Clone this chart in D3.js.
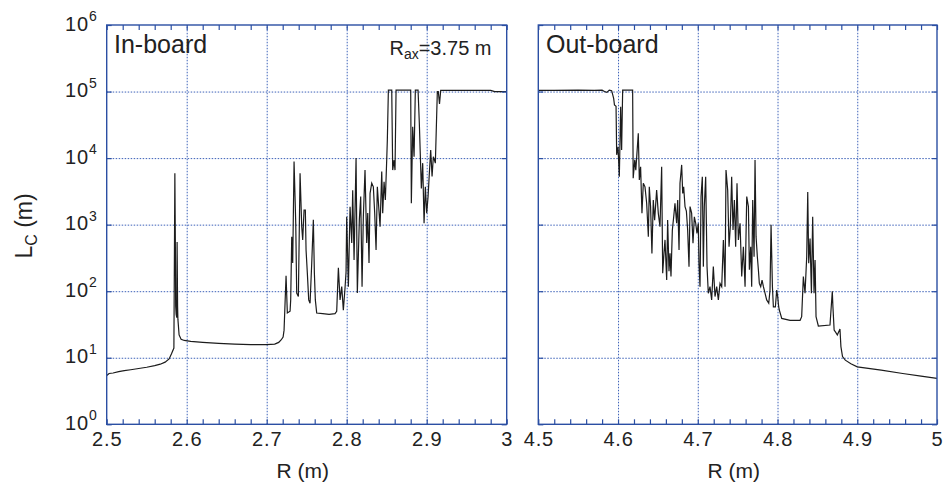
<!DOCTYPE html>
<html>
<head>
<meta charset="utf-8">
<script src="https://cdn.jsdelivr.net/npm/d3@7"></script>
<style>
  html, body { margin: 0; padding: 0; background: #fff; }
  svg { display: block; font-family: "Liberation Sans", Arial, Helvetica, sans-serif; }
</style>
</head>
<body>
<svg id="chart" width="944" height="486"></svg>
<script>
// Connection length L_C versus major radius R, in-board and out-board sides
const inR = [2.500,2.503,2.508,2.515,2.522,2.530,2.540,2.550,2.560,2.567,2.573,2.578,2.581,2.584,
  2.5852,2.5858,2.5862,2.5868,2.5876,2.5880,2.5886,2.5890,2.5905,2.593,2.597,2.605,2.620,2.640,2.660,2.680,2.700,
  2.710,2.715,2.718,2.7205,2.7217,2.7242,2.7258,2.7292,2.7300,2.7313,2.7325,2.7342,2.7354,2.7363,2.7375,2.7396,
  2.7417,2.7438,2.7450,2.7467,2.7483,2.7492,2.7508,2.7525,2.7542,2.7563,2.7583,2.7596,2.7608,2.7625,2.770,2.778,
  2.7854,2.7875,2.7896,2.7917,2.7938,2.7958,2.7979,2.7992,2.8000,2.8021,2.8042,2.8063,2.8075,2.8092,2.8117,2.8133,
  2.8158,2.8175,2.8192,2.8208,2.8229,2.8250,2.8263,2.8279,2.8292,2.8313,2.8333,2.8350,2.8367,2.8383,2.8400,2.8417,
  2.8438,2.8450,2.8467,2.8483,2.8500,2.8508,2.8521,2.8563,2.8575,2.8592,2.8604,2.8617,2.8800,2.8808,2.8825,2.8842,
  2.8858,2.8892,2.8908,2.8933,2.8950,2.8967,2.8983,2.9000,2.9017,2.9033,2.9050,2.9067,2.9083,2.9108,2.9133,2.9145,
  2.9160,2.9175,2.950,2.980,2.985,3.000];
const inL = [5.4,5.8,5.9,6.2,6.4,6.6,6.9,7.2,7.6,8.0,8.6,9.6,11.5,14,
  5900,600,60,45,40,550,60,38,22,19,18.2,17.6,17.0,16.4,16.0,15.8,15.7,
  16.0,17.0,18.5,20.5,26,170,47,50,74,660,265,8900,2640,1050,94,83,
  5900,930,590,1660,1660,415,187,74,66,265,1180,187,74,47,46,45,
  46,50,224,74,117,52,112,196,1310,117,1860,530,3300,295,10000,94,
  1180,2640,117,1310,6600,530,1490,265,2960,4200,3700,1490,415,3700,1860,930,
  6300,1490,4400,2350,9300,18700,105000,105000,6600,9300,6600,105000,105000,2100,29500,10500,
  105000,105000,33000,3500,8400,1050,3700,1490,2640,5900,13200,5300,10500,8400,100000,100000,
  65000,104000,104000,104000,100000,100000];

const outR = [4.500,4.520,4.550,4.570,4.580,4.583,4.586,4.589,4.592,4.5945,4.5955,4.5975,4.5983,4.6000,4.6016,
  4.6033,4.6045,4.6058,4.6183,4.6190,4.6210,4.6223,4.6254,4.6267,4.6283,4.6300,4.6317,4.6338,4.6359,4.6380,4.6392,
  4.6408,4.6425,4.6442,4.6459,4.6484,4.6505,4.6526,4.6547,4.6560,4.6576,4.6589,4.6610,4.6622,4.6639,4.6652,4.6664,
  4.6681,4.6698,4.6714,4.6735,4.6748,4.6765,4.6777,4.6798,4.6811,4.6823,4.6840,4.6857,4.6873,4.6890,4.6903,4.6923,
  4.6940,4.6957,4.6974,4.6990,4.7007,4.7015,4.7028,4.7041,4.7057,4.7070,4.7082,4.7099,4.7116,4.7132,4.7153,4.7174,
  4.7195,4.7216,4.7237,4.7258,4.7279,4.7300,4.7321,4.7342,4.7354,4.7375,4.7392,4.7408,4.7425,4.7442,4.7459,4.7475,
  4.7492,4.7509,4.7530,4.7551,4.7572,4.7593,4.7614,4.7635,4.7647,4.7664,4.7676,4.7689,4.7706,4.7718,4.7731,4.7747,
  4.7760,4.7772,4.7789,4.7806,4.7823,4.7844,4.7864,4.7890,4.7906,4.7919,4.7936,4.7948,4.7973,4.7990,4.8002,4.8015,
  4.8023,4.8053,4.8157,4.8283,4.8303,4.8324,4.8345,4.8366,4.8379,4.8391,4.8408,4.8425,4.8441,4.8458,4.8471,4.8483,
  4.8512,4.8658,4.8687,4.8695,4.8710,4.8730,4.8750,4.8783,4.8795,4.8815,4.8850,4.8920,4.9000,4.9300,4.9570,4.9800,5.0000];
const outL = [104000,104000,105000,104000,105000,100000,97000,105000,103000,79000,63000,60000,11200,14800,5250,
  59000,13200,105000,105000,5000,9400,6600,23600,4700,7400,1480,4200,3700,2100,660,3700,
  1870,370,2350,1170,3300,1480,930,7400,186,370,590,147,1170,200,370,166,
  830,1310,2100,1050,2350,415,4200,7900,2950,3700,1870,1600,830,234,1870,1490,
  525,1310,1050,740,1050,263,117,2640,5250,234,1870,5250,234,93,117,74,
  234,83,117,74,131,117,590,117,6600,3300,465,930,5250,830,2350,465,
  4200,590,1050,166,465,117,2640,1870,210,465,117,2350,330,9400,660,330,
  210,131,117,147,117,93,74,66,104,1000,117,58,58,104,83,58,
  52,39,36.5,36.5,41.5,166,93,330,3100,263,620,93,1310,93,295,41.5,
  30,31,100,58,26,24,22,27,14.7,10.4,9.2,8.1,7.3,6.5,5.8,5.3,4.9];

const inTicks = [2.5, 2.6, 2.7, 2.8, 2.9, 3.0];
const inTickLabels = ["2.5", "2.6", "2.7", "2.8", "2.9", "3"];
const outTicks = [4.5, 4.6, 4.7, 4.8, 4.9, 5.0];
const outTickLabels = ["4.5", "4.6", "4.7", "4.8", "4.9", "5"];
const yTicks = [1, 10, 100, 1000, 10000, 100000, 1000000];
const yExponents = ["0", "1", "2", "3", "4", "5", "6"];

const svg = d3.select("#chart");
const FRAME = "#2b4fa3", GRID = "#3c61b8";
const plotTop = 25, plotBottom = 424.3;

const y = d3.scaleLog().domain([1, 1e6]).range([plotBottom, plotTop]);

const panels = [
  { id: "in", R: inR, L: inL, domain: [2.5, 3.0], range: [106.7, 506.7], ticks: inTicks, labels: inTickLabels },
  { id: "out", R: outR, L: outL, domain: [4.5, 5.0], range: [538.3, 937], ticks: outTicks, labels: outTickLabels }
];

panels.forEach(p => {
  const x = d3.scaleLinear().domain(p.domain).range(p.range);
  const w = p.range[1] - p.range[0], h = plotBottom - plotTop;
  const g = svg.append("g");

  // dotted grid
  g.append("g").attr("transform", `translate(0,${plotBottom})`)
    .call(d3.axisBottom(x).tickValues(p.ticks.slice(1, -1)).tickSize(-h).tickFormat(""))
    .call(a => a.select(".domain").remove())
    .selectAll("line").attr("stroke", GRID).attr("stroke-width", 1).attr("stroke-dasharray", "1.5,1.5");
  g.append("g").attr("transform", `translate(${p.range[0]},0)`)
    .call(d3.axisLeft(y).tickValues(yTicks.slice(1, -1)).tickSize(-w).tickFormat(""))
    .call(a => a.select(".domain").remove())
    .selectAll("line").attr("stroke", GRID).attr("stroke-width", 1).attr("stroke-dasharray", "1.5,1.5");

  // data curve
  const clipId = "clip-" + p.id;
  svg.append("clipPath").attr("id", clipId).append("rect")
    .attr("x", p.range[0]).attr("y", plotTop).attr("width", w).attr("height", h);
  const pts = p.R.map((r, i) => [r, p.L[i]]);
  g.append("path").datum(pts)
    .attr("clip-path", `url(#${clipId})`)
    .attr("fill", "none").attr("stroke", "#1c1c1c").attr("stroke-width", 1.2)
    .attr("stroke-linejoin", "miter")
    .attr("d", d3.line().x(d => x(d[0])).y(d => y(d[1])));

  // inward minor ticks on top and bottom edges
  const minor = x.ticks(25);
  g.append("g").attr("transform", `translate(0,${plotBottom})`)
    .call(d3.axisTop(x).tickValues(minor).tickSize(5).tickFormat(""))
    .call(a => a.select(".domain").remove())
    .selectAll("line").attr("stroke", FRAME).attr("stroke-width", 1.2);
  g.append("g").attr("transform", `translate(0,${plotTop})`)
    .call(d3.axisBottom(x).tickValues(minor).tickSize(5).tickFormat(""))
    .call(a => a.select(".domain").remove())
    .selectAll("line").attr("stroke", FRAME).attr("stroke-width", 1.2);
  // inward decade ticks on left and right edges
  g.append("g").attr("transform", `translate(${p.range[0]},0)`)
    .call(d3.axisRight(y).tickValues(yTicks).tickSize(5).tickFormat(""))
    .call(a => a.select(".domain").remove())
    .selectAll("line").attr("stroke", FRAME).attr("stroke-width", 1.2);
  g.append("g").attr("transform", `translate(${p.range[1]},0)`)
    .call(d3.axisLeft(y).tickValues(yTicks).tickSize(5).tickFormat(""))
    .call(a => a.select(".domain").remove())
    .selectAll("line").attr("stroke", FRAME).attr("stroke-width", 1.2);

  // frame
  g.append("rect").attr("x", p.range[0]).attr("y", plotTop).attr("width", w).attr("height", h)
    .attr("fill", "none").attr("stroke", FRAME).attr("stroke-width", 1.4);

  // x tick labels
  const xa = g.append("g").attr("transform", `translate(0,${plotBottom})`)
    .call(d3.axisBottom(x).tickValues(p.ticks).tickSize(0)
      .tickFormat((d, i) => p.labels[i]));
  xa.select(".domain").remove();
  xa.selectAll("text").attr("y", 21.8).attr("dy", null)
    .attr("font-size", 20).attr("letter-spacing", 0.8).attr("fill", "#222").attr("font-family", null);

  // x title
  g.append("text").attr("x", (p.range[0] + p.range[1]) / 2 - 4).attr("y", 478)
    .attr("text-anchor", "middle").attr("font-size", 21).attr("fill", "#222").text("R (m)");
});

// y tick labels (left panel only): 10 with superscript exponent
const ya = svg.append("g").attr("transform", "translate(106.7,0)")
  .call(d3.axisLeft(y).tickValues(yTicks).tickSize(0).tickFormat(""));
ya.select(".domain").remove();
ya.selectAll(".tick").each(function(d, i) {
  const t = d3.select(this).select("text").attr("x", -10).attr("dy", null).attr("y", 5)
    .attr("text-anchor", "end").attr("fill", "#222").attr("font-size", 20).attr("font-family", null);
  t.append("tspan").attr("letter-spacing", 0.8).text("10");
  t.append("tspan").attr("font-size", 14).attr("dy", -9.5).text(yExponents[i]);
});

// y title
const yt = svg.append("text").attr("transform", "translate(32,226) rotate(-90)")
  .attr("text-anchor", "middle").attr("font-size", 23).attr("fill", "#222");
yt.append("tspan").text("L");
yt.append("tspan").attr("font-size", 16).attr("dy", 5).text("C");
yt.append("tspan").attr("dy", -5).text(" (m)");

// panel annotations
svg.append("text").attr("x", 114).attr("y", 53).attr("font-size", 25).attr("fill", "#222").text("In-board");
svg.append("text").attr("x", 546).attr("y", 53).attr("font-size", 25).attr("fill", "#222").text("Out-board");
const rax = svg.append("text").attr("x", 491.5).attr("y", 55).attr("text-anchor", "end")
  .attr("font-size", 20).attr("fill", "#222");
rax.append("tspan").text("R");
rax.append("tspan").attr("font-size", 14).attr("dy", 4).text("ax");
rax.append("tspan").attr("dy", -4).text("=3.75 m");
</script>
</body>
</html>
